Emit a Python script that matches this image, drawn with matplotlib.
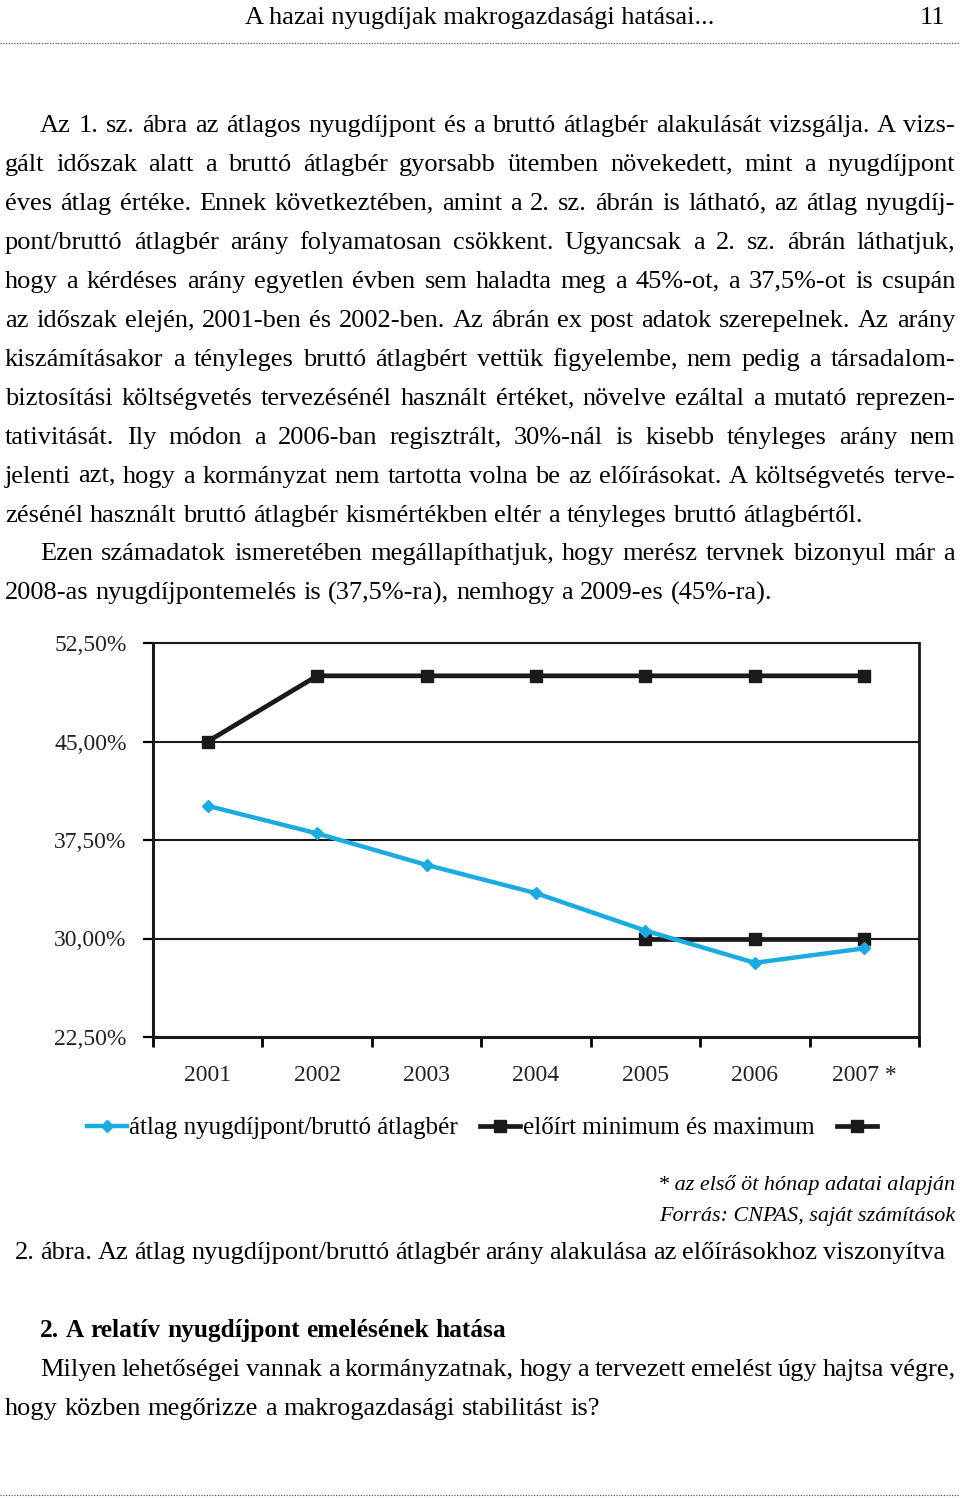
import matplotlib
matplotlib.use("Agg")
import matplotlib.pyplot as plt
import numpy as np
from matplotlib.lines import Line2D

W, H = 960, 1498
SERIF = "Liberation Serif"

# chart data
years = ["2001", "2002", "2003", "2004", "2005", "2006", "2007 *"]
ratio = [40.1, 38.0, 35.6, 33.45, 30.6, 28.15, 29.25]
upper_limit = [45.0, 50.0, 50.0, 50.0, 50.0, 50.0, 50.0]
lower_limit = [np.nan, np.nan, np.nan, np.nan, 30.0, 30.0, 30.0]
y_ticks = [22.5, 30.0, 37.5, 45.0, 52.5]
y_labels = ["22,50%", "30,00%", "37,50%", "45,00%", "52,50%"]
series_labels = ["átlag nyugdíjpont/bruttó átlagbér", "előírt minimum és maximum", ""]

# page text
header = "A hazai nyugdíjak makrogazdasági hatásai..."
page_no = "11"
body_lines = [
    "Az 1. sz. ábra az átlagos nyugdíjpont és a bruttó átlagbér alakulását vizsgálja. A vizs-",
    "gált időszak alatt a bruttó átlagbér gyorsabb ütemben növekedett, mint a nyugdíjpont",
    "éves átlag értéke. Ennek következtében, amint a 2. sz. ábrán is látható, az átlag nyugdíj-",
    "pont/bruttó átlagbér arány folyamatosan csökkent. Ugyancsak a 2. sz. ábrán láthatjuk,",
    "hogy a kérdéses arány egyetlen évben sem haladta meg a 45%-ot, a 37,5%-ot is csupán",
    "az időszak elején, 2001-ben és 2002-ben. Az ábrán ex post adatok szerepelnek. Az arány",
    "kiszámításakor a tényleges bruttó átlagbért vettük figyelembe, nem pedig a társadalom-",
    "biztosítási költségvetés tervezésénél használt értéket, növelve ezáltal a mutató reprezen-",
    "tativitását. Ily módon a 2006-ban regisztrált, 30%-nál is kisebb tényleges arány nem",
    "jelenti azt, hogy a kormányzat nem tartotta volna be az előírásokat. A költségvetés terve-",
    "zésénél használt bruttó átlagbér kismértékben eltér a tényleges bruttó átlagbértől.",
    "Ezen számadatok ismeretében megállapíthatjuk, hogy merész tervnek bizonyul már a",
    "2008-as nyugdíjpontemelés is (37,5%-ra), nemhogy a 2009-es (45%-ra).",
]
indented = [0, 11]
not_justified = [10, 12]
footnotes = ["* az első öt hónap adatai alapján", "Forrás: CNPAS, saját számítások"]
caption = "2. ábra. Az átlag nyugdíjpont/bruttó átlagbér arány alakulása az előírásokhoz viszonyítva"
heading = "2. A relatív nyugdíjpont emelésének hatása"
tail_lines = [
    "Milyen lehetőségei vannak a kormányzatnak, hogy a tervezett emelést úgy hajtsa végre,",
    "hogy közben megőrizze a makrogazdasági stabilitást is?",
]


def fx(x):
    return x / W


def fy(y):
    return 1 - y / H


fig = plt.figure(figsize=(W / 100, H / 100), dpi=100)
renderer = fig.canvas.get_renderer()


def word_widths(words, size, **kw):
    arts = [fig.text(0, 0, w, fontsize=size, family=SERIF, va="baseline", **kw) for w in words]
    return arts, [a.get_window_extent(renderer).width for a in arts]


def put_line(txt, x0, x1, y, size, justify=True, **kw):
    words = txt.split()
    arts, widths = word_widths(words, size, **kw)
    if justify and len(words) > 1:
        gap = (x1 - x0 - sum(widths)) / (len(words) - 1)
    else:
        gap = 0.26 * size * 100 / 72
    x = x0
    for a, w in zip(arts, widths):
        a.set_x(fx(x))
        a.set_y(fy(y))
        x += w + gap


# pick the body size so every justified line fits its measure
ratios = []
for i, txt in enumerate(body_lines):
    if i in not_justified:
        continue
    x0 = 40 if i in indented else 5
    arts, widths = word_widths(txt.split(), 10)
    for a in arts:
        a.remove()
    need = sum(widths) + (len(widths) - 1) * 0.2 * 10 * 100 / 72
    ratios.append((955 - x0) / need)
body_size = min(19.0, 10 * min(ratios))

# header
fig.text(fx(480), fy(24), header, ha="center", va="baseline", family=SERIF, fontsize=body_size)
fig.text(fx(945), fy(24), page_no, ha="right", va="baseline", family=SERIF, fontsize=body_size)
for yy in (43, 1495):
    fig.add_artist(Line2D([0, 1], [fy(yy), fy(yy)], color="#555555", lw=0.9,
                          linestyle=(0, (1, 1.2))))

# body paragraphs
for i, txt in enumerate(body_lines):
    x0 = 40 if i in indented else 5
    put_line(txt, x0, 955, 132 + i * 38.95, body_size, justify=i not in not_justified)

# chart
ax = fig.add_axes([fx(153), fy(1037), (919 - 153) / W, (1037 - 643) / H])
x = np.arange(len(years))
ax.plot(x, upper_limit, color="#1a1a1a", lw=3.4, marker="s", ms=8.5, zorder=3)
ax.plot(x, lower_limit, color="#1a1a1a", lw=3.4, marker="s", ms=8.5, zorder=3)
ax.plot(x, ratio, color="#1aace0", lw=3.2, marker="D", ms=6, zorder=4)

ax.set_xlim(-0.5, len(years) - 0.5)
ax.set_ylim(22.5, 52.5)
ax.set_yticks(y_ticks)
ax.set_yticklabels(y_labels, family=SERIF, fontsize=17, color="#222222")
ax.set_xticks(x)
ax.set_xticklabels(years, family=SERIF, fontsize=17, color="#222222")
ax.set_xticks(np.arange(-0.5, len(years)), minor=True)
ax.tick_params(axis="x", which="major", length=0, pad=20)
ax.tick_params(axis="x", which="minor", length=7, width=2, direction="out")
ax.tick_params(axis="y", length=7, width=1.6, direction="out", pad=12)
for yv in y_ticks[1:-1]:
    ax.axhline(yv, color="#1a1a1a", lw=1.5, zorder=1)
for side, lw in (("left", 2.2), ("bottom", 2.2), ("top", 1.5), ("right", 2.0)):
    ax.spines[side].set_linewidth(lw)
    ax.spines[side].set_color("#1a1a1a")

handles = [
    Line2D([], [], color="#1aace0", lw=3.2, marker="D", ms=6),
    Line2D([], [], color="#1a1a1a", lw=3.4, marker="s", ms=8.5),
    Line2D([], [], color="#1a1a1a", lw=3.4, marker="s", ms=8.5),
]
fig.legend(handles, series_labels, loc="center", bbox_to_anchor=(fx(483), fy(1128)),
           ncol=3, frameon=False, prop={"family": SERIF, "size": 18},
           handlelength=1.6, handletextpad=0.1, columnspacing=0.9)

# notes and caption
fig.text(fx(955), fy(1190), footnotes[0], ha="right", va="baseline", family=SERIF,
         fontsize=body_size * 0.84, style="italic")
fig.text(fx(955), fy(1221), footnotes[1], ha="right", va="baseline", family=SERIF,
         fontsize=body_size * 0.84, style="italic")
put_line(caption, 15, 945, 1259, body_size)

put_line(heading, 40, 495, 1337, body_size * 0.96, justify=False, weight="bold")
put_line(tail_lines[0], 40, 955, 1376, body_size)
put_line(tail_lines[1], 5, 955, 1415, body_size, justify=False)

fig.savefig("out.png", dpi=100)
